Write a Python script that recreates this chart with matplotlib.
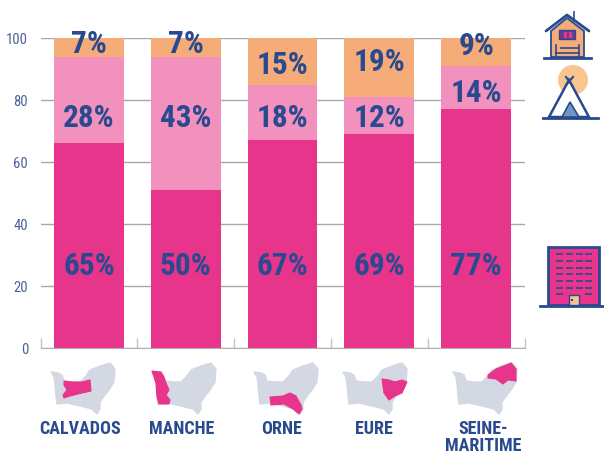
#!/usr/bin/env python
import matplotlib as mpl
mpl.use('Agg')
from matplotlib import pyplot as plt
from matplotlib.patches import Polygon, Rectangle, Circle
import numpy as np

departements = ['CALVADOS', 'MANCHE', 'ORNE', 'EURE', 'SEINE-\nMARITIME']
hotel = [66, 51, 67, 69, 77]
camping = [28, 43, 18, 12, 14]
gites = [6, 6, 15, 19, 9]
hotel_labels = ['65%', '50%', '67%', '69%', '77%']
camping_labels = ['28%', '43%', '18%', '12%', '14%']
gites_labels = ['7%', '7%', '15%', '19%', '9%']
yticks = [0, 20, 40, 60, 80, 100]

# where the percent labels sit, in axis units
hotel_label_y = [26.3, 26.3, 26.3, 26.3, 26.3]
camping_label_y = [74.3, 74.3, 74.3, 74.3, 82.3]
gites_label_y = [98, 98, 91.3, 92.3, 97.3]

HOTEL_COL = '#E8358C'
CAMP_COL = '#F291BE'
GITE_COL = '#F6AC78'
NAVY = '#2A4A8F'
MAP_GREY = '#D3D8E3'
FONT = ['Roboto Condensed', 'Liberation Sans', 'DejaVu Sans']
W, H = 604, 454

# outline of Normandy, in pixels from the left edge of the first little map
region = [(0, 0), (7, 1), (11, 3), (13, 9), (21, 10), (29, 10), (35, 4), (39, -2),
          (49, -6), (59, -9), (64, -3), (63, 10), (58, 18), (54, 23), (49, 30),
          (49, 37), (46, 42), (41, 37), (29, 34), (16, 31), (6, 32), (5, 24), (4, 12), (3, 5)]
# shape of each departement on the same pixel frame
shapes = [
    [(13, 9), (21, 10), (31, 10), (39, 8), (40, 19), (31, 21), (19, 24), (13, 26), (12, 23), (16, 18), (13, 13)],
    [(0, -1), (9, 0), (12, 5), (14, 11), (17, 18), (14, 23), (18, 28), (17, 32), (7, 32), (5, 25), (4, 11), (2, 5)],
    [(16, 25), (29, 24), (36, 21), (42, 24), (47, 33), (48, 37), (45, 42), (39, 37), (30, 32), (17, 33)],
    [(39, 7), (46, 8), (52, 10), (59, 8), (64, 10), (59, 21), (52, 24), (46, 28), (41, 21)],
    [(35, 3), (43, -3), (58, -9), (63, -3), (63, 9), (55, 8), (50, 12), (43, 7), (35, 6)],
]
map_x = [51, 152, 254, 343, 453]
map_y = 372
name_x = [80, 182, 281, 374, 483]


def draw_house(ov):
    ov.add_patch(Polygon([(551, 31), (551, 57), (584, 57), (584, 31), (567, 18)],
                         fc=GITE_COL, ec=NAVY, lw=1.3))
    ov.plot([546, 567, 589], [31, 15, 31], color=NAVY, lw=2, solid_capstyle='round')
    ov.plot([574, 574], [21, 12], color=NAVY, lw=1.2)
    ov.plot([544, 591], [57.5, 57.5], color=NAVY, lw=2)
    ov.add_patch(Rectangle((559, 30), 16, 9, fc='#6A3C92', ec=NAVY, lw=1))
    for wx in [564, 569]:
        ov.add_patch(Rectangle((wx, 32), 2.5, 6, fc=HOTEL_COL, ec='none'))
    for bx in [556, 579]:
        ov.plot([bx, bx], [45, 57], color=NAVY, lw=1.2)
    ov.plot([556, 579], [53, 53], color=NAVY, lw=1.2)
    ov.plot([561, 578], [48, 48], color=NAVY, lw=1.2)


def draw_tipi(ov):
    ov.add_patch(Circle((573, 80), 15, fc='#F8C48F', ec='none'))
    ov.add_patch(Polygon([(549, 117), (569, 80), (589, 117)], fc='white', ec=NAVY, lw=1.8))
    ov.add_patch(Polygon([(562, 117), (570, 102), (579, 117)], fc='#6E97C4', ec=NAVY, lw=1.2))
    ov.plot([566, 572], [77, 85], color=NAVY, lw=1.5)
    ov.plot([573, 566], [77, 85], color=NAVY, lw=1.5)
    ov.plot([543, 598], [118, 118], color=NAVY, lw=2)


def draw_building(ov):
    ov.add_patch(Rectangle((548, 247), 51, 58, fc=HOTEL_COL, ec=NAVY, lw=2))
    for wy in [254, 261, 268, 274, 281, 288, 294]:
        for wx in [556, 566, 576, 585]:
            if wy == 294 and wx in (566, 576):
                continue
            ov.plot([wx, wx + 7], [wy, wy], color=NAVY, lw=1.4, alpha=.85,
                    solid_capstyle='butt')
    ov.add_patch(Rectangle((569, 295), 10, 10, fc='#F6C58F', ec=NAVY, lw=1))
    ov.add_patch(Rectangle((571, 299), 2, 2, fc=NAVY, ec='none'))
    ov.plot([540, 604], [306, 306], color=NAVY, lw=2)


fig = plt.figure(figsize=(W / 100, H / 100), dpi=100)
ax = fig.add_axes([40.5 / W, 1 - 348 / H, 484 / W, 310 / H])
x = np.arange(len(departements))
bw = 0.72
ax.bar(x, hotel, bw, color=HOTEL_COL, zorder=2)
ax.bar(x, camping, bw, bottom=hotel, color=CAMP_COL, zorder=2)
ax.bar(x, gites, bw, bottom=np.add(hotel, camping), color=GITE_COL, zorder=2)

txt = dict(ha='center', va='center', color=NAVY, fontsize=22.5, fontweight='bold',
           family=FONT, zorder=3, clip_on=False)
for i in x:
    ax.text(i, hotel_label_y[i], hotel_labels[i], **txt)
    ax.text(i, camping_label_y[i], camping_labels[i], **txt)
    ax.text(i, gites_label_y[i], gites_labels[i], **txt)

ax.set_xlim(-0.5, 4.5)
ax.set_ylim(0, 100)
ax.set_yticks(yticks)
ax.set_xticks(np.arange(-0.5, 5, 1))
ax.set_xticklabels([])
ax.tick_params(axis='x', direction='in', length=7, color='#C4C4C4', width=1)
ax.tick_params(axis='y', length=0, pad=9, labelcolor='#4A6296', labelsize=10.5)
for lab in ax.get_yticklabels():
    lab.set_family(FONT)
ax.grid(axis='y', color='#A8A8A8', lw=1, zorder=0)
for s in ['top', 'right', 'left']:
    ax.spines[s].set_visible(False)
ax.spines['bottom'].set_color('#B0B0B0')

# overlay in pixel coordinates for the small maps and the icons
ov = fig.add_axes([0, 0, 1, 1], facecolor='none')
ov.set_xlim(0, W)
ov.set_ylim(H, 0)
ov.axis('off')
for i, shape in enumerate(shapes):
    ox, oy = map_x[i], map_y
    ov.add_patch(Polygon([(ox + a, oy + b) for a, b in region], fc=MAP_GREY, ec=MAP_GREY,
                         lw=1, joinstyle='round'))
    ov.add_patch(Polygon([(ox + a, oy + b) for a, b in shape], fc=HOTEL_COL, ec=HOTEL_COL,
                         lw=0.8, joinstyle='round'))
    ov.text(name_x[i], 420, departements[i], ha='center', va='top',
            color=NAVY, fontsize=13, fontweight='bold', family=FONT, linespacing=0.95)
draw_house(ov)
draw_tipi(ov)
draw_building(ov)

fig.savefig('out.png', dpi=100)
